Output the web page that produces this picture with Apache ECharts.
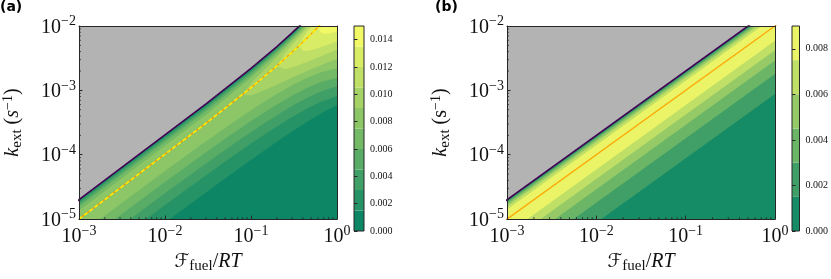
<!DOCTYPE html>
<html>
<head>
<meta charset="utf-8">
<script src="https://cdn.jsdelivr.net/npm/echarts@6.0.0/dist/echarts.min.js"></script>
<style>html,body{margin:0;padding:0;background:#fff;}#chart{width:831px;height:279px;}</style>
</head>
<body>
<div id="chart"></div>
<script>
// ---------------- data ----------------
const levelsA = [0, 0.0015, 0.003, 0.0045, 0.006, 0.0075, 0.009, 0.0105, 0.012, 0.0135, 0.015];
const levelsB = [0, 0.0015, 0.003, 0.0045, 0.006, 0.0075, 0.009];
const colorsA = ['#0d8666', '#269366', '#409f66', '#59ac66', '#73b966', '#8cc666', '#a6d266', '#bfdf66', '#d9ec66', '#f2f966'];
const colorsB = ['#158b66', '#409f66', '#6ab566', '#95ca66', '#bfdf66', '#eaf466'];
const GRAY = '#b3b3b3';
const cbTicksA = [0, 0.002, 0.004, 0.006, 0.008, 0.010, 0.012, 0.014];
const cbTicksB = [0, 0.002, 0.004, 0.006, 0.008];
const minorX = [0.002,0.003,0.004,0.005,0.006,0.007,0.008,0.009,0.02,0.03,0.04,0.05,0.06,0.07,0.08,0.09,0.2,0.3,0.4,0.5,0.6,0.7,0.8,0.9];
const minorY = [2e-5,3e-5,4e-5,5e-5,6e-5,7e-5,8e-5,9e-5,2e-4,3e-4,4e-4,5e-4,6e-4,7e-4,8e-4,9e-4,2e-3,3e-3,4e-3,5e-3,6e-3,7e-3,8e-3,9e-3];

// Panel (a): edge of the feasible region, optimum line, contour lines [F, k]
const boundaryA = [[1e-4,2e-6],[1e-3,2e-5],[0.03,6.18e-4],[0.1,2.2e-3],[0.2,4.8e-3],[0.3,7.8e-3],[0.45,1.305e-2],[0.65,2.145e-2],[1.5,7.5e-2]];
const ridgeA = [[1e-3,1e-5],[0.03,3.09e-4],[0.1,1.1e-3],[0.2,2.4e-3],[0.3,3.9e-3],[0.45,6.53e-3],[0.65,1.07e-2]];
const lo1A = [[1e-4,9.0e-8],[0.01,8.84e-6],[0.03,2.60e-5],[0.06,5.09e-5],[0.1,8.29e-5],[0.15,1.216e-4],[0.2,1.587e-4],[0.3,2.29e-4],[0.45,3.26e-4],[0.65,4.38e-4],[1,5.9e-4],[1.5,1.106e-3]];
const lo2A = [[1e-4,1.70e-7],[0.01,1.655e-5],[0.03,4.81e-5],[0.06,9.31e-5],[0.1,1.493e-4],[0.15,2.146e-4],[0.2,2.753e-4],[0.3,3.85e-4],[0.45,5.23e-4],[0.65,6.66e-4],[1,8.2e-4],[1.5,1.54e-3]];
const lo3A = [[1e-4,2.6e-7],[0.01,2.53e-5],[0.03,7.34e-5],[0.06,1.413e-4],[0.1,2.256e-4],[0.15,3.229e-4],[0.2,4.12e-4],[0.3,5.72e-4],[0.45,7.68e-4],[0.65,9.63e-4],[1,1.159e-3],[1.5,2.17e-3]];
const lo4A = [[1e-4,3.9e-7],[0.01,3.78e-5],[0.03,1.094e-4],[0.06,2.096e-4],[0.1,3.33e-4],[0.15,4.74e-4],[0.2,6.01e-4],[0.3,8.24e-4],[0.45,1.092e-3],[0.65,1.344e-3],[1,1.57e-3],[1.5,2.94e-3]];
const lo5A = [[1e-4,5.79e-7],[0.01,5.61e-5],[0.03,1.619e-4],[0.06,3.094e-4],[0.1,4.90e-4],[0.15,6.94e-4],[0.2,8.79e-4],[0.3,1.197e-3],[0.45,1.571e-3],[0.65,1.915e-3],[1,2.198e-3],[1.5,4.12e-3]];
const lo6A = [[0.08,8.64e-4],[0.1,8.35e-4],[0.15,1.030e-3],[0.2,1.222e-3],[0.3,1.564e-3],[0.45,1.993e-3],[0.65,2.462e-3],[1,3.084e-3],[1.5,5.78e-3]];
const lo7A = [[0.2,2.4e-3],[0.25,2.13e-3],[0.3,2.267e-3],[0.45,2.769e-3],[0.65,3.394e-3],[1,4.316e-3],[1.5,8.09e-3]];
const lo8A = [[0.36,4.896e-3],[0.4,4.109e-3],[0.45,4.100e-3],[0.55,4.339e-3],[0.65,4.659e-3],[0.8,5.157e-3],[1,5.794e-3],[1.5,1.086e-2]];
const lo9A = [[0.6,9.6e-3],[0.65,7.825e-3],[0.72,7.601e-3],[0.8,7.668e-3],[0.9,7.905e-3],[1,8.204e-3],[1.5,1.538e-2]];
const up1A = [[1e-4,1.9075e-6],[0.03,5.898e-4],[0.1,2.107e-3],[0.2,4.622e-3],[0.3,7.537e-3],[0.45,1.2653e-2],[0.65,2.085e-2]];
const up2A = [[1e-4,1.804e-6],[0.03,5.584e-4],[0.1,2.005e-3],[0.2,4.428e-3],[0.3,7.253e-3],[0.45,1.2228e-2],[0.65,2.021e-2]];
const up3A = [[1e-4,1.686e-6],[0.03,5.223e-4],[0.1,1.890e-3],[0.2,4.214e-3],[0.3,6.943e-3],[0.45,1.1768e-2],[0.65,1.953e-2]];
const up4A = [[1e-4,1.542e-6],[0.03,4.789e-4],[0.1,1.755e-3],[0.2,3.971e-3],[0.3,6.597e-3],[0.45,1.1265e-2],[0.65,1.879e-2]];
const up5A = [[1e-4,1.343e-6],[0.03,4.195e-4],[0.1,1.584e-3],[0.2,3.683e-3],[0.3,6.2e-3],[0.45,1.07e-2],[0.65,1.797e-2]];
const up6A = [[0.08,8.64e-4],[0.1,1.2976e-3],[0.15,2.245e-3],[0.2,3.307e-3],[0.3,5.719e-3],[0.45,1.0046e-2],[0.65,1.705e-2]];
const up7A = [[0.2,2.4e-3],[0.25,3.791e-3],[0.3,5.05e-3],[0.45,9.241e-3],[0.65,1.597e-2]];
const up8A = [[0.36,4.896e-3],[0.4,6.475e-3],[0.45,8.056e-3],[0.55,1.1095e-2],[0.65,1.46e-2]];
const up9A = [[0.6,9.6e-3],[0.65,1.2306e-2],[0.72,1.513e-2]];

// Panel (b): contours are straight lines k = ratio * F
const lowerRatioB = [0.00088, 0.0018, 0.0029, 0.0042, 0.0059];
const upperRatioB = [0.0191, 0.0182, 0.0171, 0.0158, 0.0141];
const boundaryRatioB = 0.02;
const ridgeRatioB = 0.01;

// ---------------- build ----------------
const FONT = 'Liberation Serif';
const TXT = '#111';
const SPINE = '#262626';
const X_MIN = 1e-3, Y_MIN = 1e-5;

function band(lo, up) { return lo.concat([[1.5, 1]], up.slice().reverse()); }
const polysA = [band(lo1A,up1A), band(lo2A,up2A), band(lo3A,up3A), band(lo4A,up4A), band(lo5A,up5A),
                band(lo6A,up6A), band(lo7A,up7A), band(lo8A,up8A), band(lo9A,up9A),
                boundaryA.concat([[1.5, 1], [1e-4, 1]])];
const fillsA = colorsA.slice(1).concat([GRAY]);

const polysB = lowerRatioB.map((lo, i) => {
  const up = upperRatioB[i];
  return [[1e-4, lo * 1e-4], [10, lo * 10], [10, up * 10], [1e-4, up * 1e-4]];
});
polysB.push([[1e-4, boundaryRatioB * 1e-4], [10, boundaryRatioB * 10], [10, 10], [1e-4, 10]]);
const fillsB = colorsB.slice(1).concat([GRAY]);
const boundaryB = [[1e-4, boundaryRatioB * 1e-4], [10, boundaryRatioB * 10]];
const ridgeB = [[1e-4, ridgeRatioB * 1e-4], [10, ridgeRatioB * 10]];

const tickRich = {
  b: { fontSize: 20, fontFamily: FONT, color: TXT, lineHeight: 23, verticalAlign: 'bottom' },
  e: { fontSize: 14, fontFamily: FONT, color: TXT, lineHeight: 15, verticalAlign: 'top' }
};
function sci(v) {
  const e = Math.round(Math.log10(v));
  return '{b|10}{e|' + (e < 0 ? '\u2212' : '') + Math.abs(e) + '}';
}
const nameRich = {
  cal: { fontFamily: 'DejaVu Sans', fontSize: 19, color: TXT, lineHeight: 24 },
  i: { fontFamily: FONT, fontStyle: 'italic', fontSize: 20, color: TXT, lineHeight: 24 },
  n: { fontFamily: FONT, fontSize: 20, color: TXT, lineHeight: 24 },
  s: { fontFamily: FONT, fontSize: 15, color: TXT, lineHeight: 14, verticalAlign: 'bottom' },
  sup: { fontFamily: FONT, fontSize: 14, color: TXT, lineHeight: 14, verticalAlign: 'top' }
};
const xName = '{cal|\u2131}{s|fuel}{n|/}{i|RT}';
const yNameA = '{i|k}{s|ext}{n| (}{i|s}{sup|\u22121}{n|)}';
const yNameB = '{i|k}{s|ext}{n| (s}{sup|\u22121}{n|)}';

function xAxesFor(gi) {
  return [
    { gridIndex: gi, type: 'log', logBase: 10, min: 1e-3, max: 1, position: 'bottom', z: 10,
      axisLine: { show: true, lineStyle: { color: SPINE, width: 1 } },
      axisTick: { show: true, inside: true, length: 3.5, lineStyle: { color: SPINE, width: 1 } },
      splitLine: { show: false }, minorTick: { show: false },
      axisLabel: { formatter: sci, rich: tickRich, margin: 5 },
      name: xName, nameLocation: 'middle', nameGap: 24, nameTextStyle: { rich: nameRich } },
    { gridIndex: gi, type: 'value', min: 0, max: 1, position: 'top', z: 10,
      axisLine: { show: true, lineStyle: { color: SPINE, width: 1 } },
      axisTick: { show: false }, axisLabel: { show: false }, splitLine: { show: false } }
  ];
}
function yAxesFor(gi, name) {
  return [
    { gridIndex: gi, type: 'log', logBase: 10, min: 1e-5, max: 1e-2, position: 'left', z: 10,
      axisLine: { show: true, lineStyle: { color: SPINE, width: 1 } },
      axisTick: { show: true, inside: true, length: 3.5, lineStyle: { color: SPINE, width: 1 } },
      splitLine: { show: false }, minorTick: { show: false },
      axisLabel: { formatter: sci, rich: tickRich, margin: 3 },
      name: name, nameLocation: 'middle', nameRotate: 90, nameGap: 54, nameTextStyle: { rich: nameRich } },
    { gridIndex: gi, type: 'value', min: 0, max: 1, position: 'right', z: 10,
      axisLine: { show: true, lineStyle: { color: SPINE, width: 1 } },
      axisTick: { show: false }, axisLabel: { show: false }, splitLine: { show: false } }
  ];
}
function cbX(gi) {
  return { gridIndex: gi, type: 'value', min: 0, max: 1, show: false };
}
function cbY(gi, max, ticks) {
  return { gridIndex: gi, type: 'value', min: 0, max: max, position: 'right', z: 10,
    axisLine: { show: false }, splitLine: { show: false },
    axisTick: { show: true, inside: false, length: 3.5, customValues: ticks, lineStyle: { color: SPINE, width: 1 } },
    axisLabel: { customValues: ticks, formatter: v => v.toFixed(3), margin: 6,
      fontFamily: FONT, fontSize: 10, color: TXT } };
}

function polySeries(xi, yi, polys, fills) {
  return { type: 'custom', xAxisIndex: xi, yAxisIndex: yi, clip: true, silent: true, z: 1,
    data: polys.map((p, i) => [0.01, 1e-4, i]), encode: { x: 0, y: 1 },
    renderItem: (params, api) => {
      const i = api.value(2);
      return { type: 'polygon', shape: { points: polys[i].map(d => api.coord(d)) },
        style: { fill: fills[i] } };
    } };
}
function lineSeries(xi, yi, data, color, width, dash) {
  return { type: 'line', xAxisIndex: xi, yAxisIndex: yi, data: data, showSymbol: false, symbol: 'none',
    silent: true, z: 3, clip: true, animation: false,
    lineStyle: { color: color, width: width, type: dash ? dash : 'solid' } };
}
// minor ticks (2..9 x 10^n), drawn inward from the bottom and left spines
function minorTickSeries(xi, yi) {
  const items = minorX.map(v => [v, Y_MIN, 0]).concat(minorY.map(v => [X_MIN, v, 1]));
  return { type: 'custom', xAxisIndex: xi, yAxisIndex: yi, silent: true, z: 6, clip: false,
    data: items, encode: { x: 0, y: 1 },
    renderItem: (params, api) => {
      const p = api.coord([api.value(0), api.value(1)]);
      const vertical = api.value(2) === 0;
      const shape = vertical ? { x1: p[0], y1: p[1], x2: p[0], y2: p[1] - 2 }
                             : { x1: p[0], y1: p[1], x2: p[0] + 2, y2: p[1] };
      return { type: 'line', shape: shape, style: { stroke: SPINE, lineWidth: 0.8 } };
    } };
}
function cbSeries(xi, yi, levels, colors) {
  return { type: 'custom', xAxisIndex: xi, yAxisIndex: yi, silent: true, z: 1,
    data: colors.map((c, i) => [0.5, (levels[i] + levels[i + 1]) / 2, i]), encode: { x: 0, y: 1 },
    renderItem: (params, api) => {
      const i = api.value(2);
      const a = api.coord([0, levels[i + 1]]), b = api.coord([1, levels[i]]);
      return { type: 'rect', shape: { x: a[0], y: a[1], width: b[0] - a[0], height: b[1] - a[1] },
        style: { fill: colors[i] } };
    } };
}
function cbOutline(xi, yi, max) {
  return { type: 'custom', xAxisIndex: xi, yAxisIndex: yi, silent: true, z: 5,
    data: [[0.5, max / 2]], encode: { x: 0, y: 1 },
    renderItem: (params, api) => {
      const a = api.coord([0, max]), b = api.coord([1, 0]);
      return { type: 'rect', shape: { x: a[0], y: a[1], width: b[0] - a[0], height: b[1] - a[1] },
        style: { fill: null, stroke: SPINE, lineWidth: 1 } };
    } };
}

const option = {
  animation: false,
  backgroundColor: '#ffffff',
  grid: [
    { left: 70, top: 26, width: 267, height: 205, show: true, backgroundColor: colorsA[0], borderWidth: 0 },
    { left: 507, top: 26, width: 268, height: 205, show: true, backgroundColor: colorsB[0], borderWidth: 0 },
    { left: 354, top: 26, width: 10, height: 205 },
    { left: 792, top: 26, width: 10, height: 205 }
  ],
  xAxis: [].concat(xAxesFor(0), xAxesFor(1), [cbX(2), cbX(3)]),
  yAxis: [].concat(yAxesFor(0, yNameA), yAxesFor(1, yNameB), [cbY(2, 0.015, cbTicksA), cbY(3, 0.009, cbTicksB)]),
  graphic: [
    { type: 'text', left: 0, top: 0, style: { text: '(a)', font: 'bold 14px "DejaVu Sans"', fill: '#000' } },
    { type: 'text', left: 435, top: 0, style: { text: '(b)', font: 'bold 14px "DejaVu Sans"', fill: '#000' } }
  ],
  series: [
    polySeries(0, 0, polysA, fillsA),
    lineSeries(0, 0, boundaryA, '#440154', 1.6),
    lineSeries(0, 0, ridgeA, '#ff9900', 1.2),
    lineSeries(0, 0, ridgeA, '#ffee00', 1.6, [4, 2.5]),
    minorTickSeries(0, 0),
    polySeries(2, 2, polysB, fillsB),
    lineSeries(2, 2, boundaryB, '#440154', 1.6),
    lineSeries(2, 2, ridgeB, '#ffa500', 1.3),
    minorTickSeries(2, 2),
    cbSeries(4, 4, levelsA, colorsA),
    cbOutline(4, 4, 0.015),
    cbSeries(5, 5, levelsB, colorsB),
    cbOutline(5, 5, 0.009)
  ]
};

const chart = echarts.init(document.getElementById('chart'), null, { renderer: 'canvas', width: 831, height: 279 });
chart.setOption(option);
</script>
</body>
</html>
